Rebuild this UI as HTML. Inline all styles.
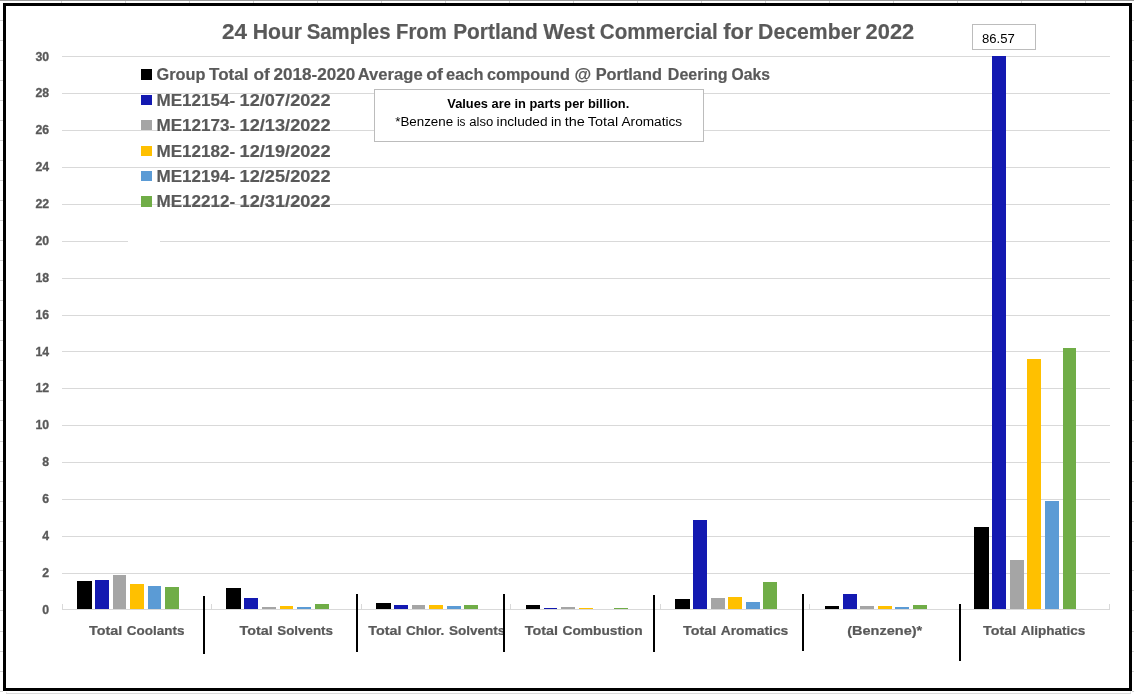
<!DOCTYPE html>
<html lang="en"><head><meta charset="utf-8"><title>24 Hour Samples From Portland West Commercial for December 2022</title>
<style>html,body{margin:0;padding:0;background:#fff;overflow:hidden}svg{display:block}text{font-family:"Liberation Sans",sans-serif}.b{font-weight:bold}.g{fill:#595959}.s4{stroke:#595959;stroke-width:.22px}.s3{stroke:#595959;stroke-width:.18px}</style></head><body>
<svg width="1134" height="694" viewBox="0 0 1134 694" shape-rendering="crispEdges">
<rect width="1134" height="694" fill="#fff"/>
<rect x="0" y="0" width="1134" height="1" fill="#9b9b9b"/>
<g fill="#d4d4d4">
<rect x="61" y="1" width="1" height="2"/>
<rect x="125" y="1" width="1" height="2"/>
<rect x="189" y="1" width="1" height="2"/>
<rect x="253" y="1" width="1" height="2"/>
<rect x="317" y="1" width="1" height="2"/>
<rect x="381" y="1" width="1" height="2"/>
<rect x="445" y="1" width="1" height="2"/>
<rect x="509" y="1" width="1" height="2"/>
<rect x="573" y="1" width="1" height="2"/>
<rect x="637" y="1" width="1" height="2"/>
<rect x="701" y="1" width="1" height="2"/>
<rect x="765" y="1" width="1" height="2"/>
<rect x="829" y="1" width="1" height="2"/>
<rect x="893" y="1" width="1" height="2"/>
<rect x="957" y="1" width="1" height="2"/>
<rect x="1021" y="1" width="1" height="2"/>
<rect x="1085" y="1" width="1" height="2"/>
<rect x="0" y="20" width="3" height="1"/>
<rect x="1132" y="20" width="2" height="1"/>
<rect x="0" y="40" width="3" height="1"/>
<rect x="1132" y="40" width="2" height="1"/>
<rect x="0" y="60" width="3" height="1"/>
<rect x="1132" y="60" width="2" height="1"/>
<rect x="0" y="80" width="3" height="1"/>
<rect x="1132" y="80" width="2" height="1"/>
<rect x="0" y="100" width="3" height="1"/>
<rect x="1132" y="100" width="2" height="1"/>
<rect x="0" y="120" width="3" height="1"/>
<rect x="1132" y="120" width="2" height="1"/>
<rect x="0" y="140" width="3" height="1"/>
<rect x="1132" y="140" width="2" height="1"/>
<rect x="0" y="160" width="3" height="1"/>
<rect x="1132" y="160" width="2" height="1"/>
<rect x="0" y="180" width="3" height="1"/>
<rect x="1132" y="180" width="2" height="1"/>
<rect x="0" y="200" width="3" height="1"/>
<rect x="1132" y="200" width="2" height="1"/>
<rect x="0" y="220" width="3" height="1"/>
<rect x="1132" y="220" width="2" height="1"/>
<rect x="0" y="240" width="3" height="1"/>
<rect x="1132" y="240" width="2" height="1"/>
<rect x="0" y="260" width="3" height="1"/>
<rect x="1132" y="260" width="2" height="1"/>
<rect x="0" y="280" width="3" height="1"/>
<rect x="1132" y="280" width="2" height="1"/>
<rect x="0" y="300" width="3" height="1"/>
<rect x="1132" y="300" width="2" height="1"/>
<rect x="0" y="320" width="3" height="1"/>
<rect x="1132" y="320" width="2" height="1"/>
<rect x="0" y="340" width="3" height="1"/>
<rect x="1132" y="340" width="2" height="1"/>
<rect x="0" y="360" width="3" height="1"/>
<rect x="1132" y="360" width="2" height="1"/>
<rect x="0" y="380" width="3" height="1"/>
<rect x="1132" y="380" width="2" height="1"/>
<rect x="0" y="400" width="3" height="1"/>
<rect x="1132" y="400" width="2" height="1"/>
<rect x="0" y="420" width="3" height="1"/>
<rect x="1132" y="420" width="2" height="1"/>
<rect x="0" y="441" width="3" height="1"/>
<rect x="1132" y="441" width="2" height="1"/>
<rect x="0" y="461" width="3" height="1"/>
<rect x="1132" y="461" width="2" height="1"/>
<rect x="0" y="481" width="3" height="1"/>
<rect x="1132" y="481" width="2" height="1"/>
<rect x="0" y="501" width="3" height="1"/>
<rect x="1132" y="501" width="2" height="1"/>
<rect x="0" y="521" width="3" height="1"/>
<rect x="1132" y="521" width="2" height="1"/>
<rect x="0" y="541" width="3" height="1"/>
<rect x="1132" y="541" width="2" height="1"/>
<rect x="0" y="570" width="3" height="1"/>
<rect x="1132" y="570" width="2" height="1"/>
<rect x="0" y="590" width="3" height="1"/>
<rect x="1132" y="590" width="2" height="1"/>
<rect x="0" y="610" width="3" height="1"/>
<rect x="1132" y="610" width="2" height="1"/>
<rect x="0" y="631" width="3" height="1"/>
<rect x="1132" y="631" width="2" height="1"/>
<rect x="0" y="651" width="3" height="1"/>
<rect x="1132" y="651" width="2" height="1"/>
<rect x="0" y="671" width="3" height="1"/>
<rect x="1132" y="671" width="2" height="1"/>
<rect x="0" y="691" width="3" height="1"/>
<rect x="1132" y="691" width="2" height="1"/>
<rect x="6" y="693" width="1125" height="1" fill="#dadada"/><rect x="6" y="692" width="1" height="1" fill="#e6e6e6"/><rect x="1130" y="691" width="1" height="2" fill="#e6e6e6"/>
</g>
<rect x="4.5" y="4.5" width="1126" height="685" fill="#fff" stroke="#000" stroke-width="3"/>
<g fill="#d9d9d9">
<rect x="62" y="609" width="1048" height="1"/>
<rect x="62" y="573" width="1048" height="1"/>
<rect x="62" y="536" width="1048" height="1"/>
<rect x="62" y="499" width="1048" height="1"/>
<rect x="62" y="462" width="1048" height="1"/>
<rect x="62" y="425" width="1048" height="1"/>
<rect x="62" y="388" width="1048" height="1"/>
<rect x="62" y="351" width="1048" height="1"/>
<rect x="62" y="315" width="1048" height="1"/>
<rect x="62" y="278" width="1048" height="1"/>
<rect x="62" y="241" width="1048" height="1"/>
<rect x="62" y="204" width="1048" height="1"/>
<rect x="62" y="167" width="1048" height="1"/>
<rect x="62" y="130" width="1048" height="1"/>
<rect x="62" y="93" width="1048" height="1"/>
<rect x="62" y="56" width="1048" height="1"/>
<rect x="62" y="604" width="1" height="5"/>
<rect x="211" y="604" width="1" height="5"/>
<rect x="361" y="604" width="1" height="5"/>
<rect x="510" y="604" width="1" height="5"/>
<rect x="660" y="604" width="1" height="5"/>
<rect x="809" y="604" width="1" height="5"/>
<rect x="959" y="604" width="1" height="5"/>
<rect x="1109" y="604" width="1" height="5"/>
</g>
<rect x="128" y="236" width="32" height="11" fill="#fff"/>
<rect x="77" y="581" width="15" height="28" fill="#000000"/>
<rect x="95" y="580" width="14" height="29" fill="#1319B1"/>
<rect x="113" y="575" width="13" height="34" fill="#A5A5A5"/>
<rect x="130" y="584" width="14" height="25" fill="#FFC000"/>
<rect x="148" y="586" width="13" height="23" fill="#5B9BD5"/>
<rect x="165" y="587" width="14" height="22" fill="#70AD47"/>
<rect x="226" y="588" width="15" height="21" fill="#000000"/>
<rect x="244" y="598" width="14" height="11" fill="#1319B1"/>
<rect x="262" y="607" width="14" height="2" fill="#A5A5A5"/>
<rect x="280" y="606" width="13" height="3" fill="#FFC000"/>
<rect x="297" y="607" width="14" height="2" fill="#5B9BD5"/>
<rect x="315" y="604" width="14" height="5" fill="#70AD47"/>
<rect x="376" y="603" width="15" height="6" fill="#000000"/>
<rect x="394" y="605" width="14" height="4" fill="#1319B1"/>
<rect x="412" y="605" width="13" height="4" fill="#A5A5A5"/>
<rect x="429" y="605" width="14" height="4" fill="#FFC000"/>
<rect x="447" y="606" width="14" height="3" fill="#5B9BD5"/>
<rect x="464" y="605" width="14" height="4" fill="#70AD47"/>
<rect x="526" y="605" width="14" height="4" fill="#000000"/>
<rect x="544" y="608" width="13" height="1" fill="#1319B1"/>
<rect x="561" y="607" width="14" height="2" fill="#A5A5A5"/>
<rect x="579" y="608" width="14" height="1" fill="#FFC000"/>
<rect x="614" y="608" width="14" height="1" fill="#70AD47"/>
<rect x="675" y="599" width="15" height="10" fill="#000000"/>
<rect x="693" y="520" width="14" height="89" fill="#1319B1"/>
<rect x="711" y="598" width="14" height="11" fill="#A5A5A5"/>
<rect x="728" y="597" width="14" height="12" fill="#FFC000"/>
<rect x="746" y="602" width="14" height="7" fill="#5B9BD5"/>
<rect x="763" y="582" width="14" height="27" fill="#70AD47"/>
<rect x="825" y="606" width="14" height="3" fill="#000000"/>
<rect x="843" y="594" width="14" height="15" fill="#1319B1"/>
<rect x="860" y="606" width="14" height="3" fill="#A5A5A5"/>
<rect x="878" y="606" width="14" height="3" fill="#FFC000"/>
<rect x="895" y="607" width="14" height="2" fill="#5B9BD5"/>
<rect x="913" y="605" width="14" height="4" fill="#70AD47"/>
<rect x="974" y="527" width="15" height="82" fill="#000000"/>
<rect x="992" y="56" width="14" height="553" fill="#1319B1"/>
<rect x="1010" y="560" width="14" height="49" fill="#A5A5A5"/>
<rect x="1027" y="359" width="14" height="250" fill="#FFC000"/>
<rect x="1045" y="501" width="14" height="108" fill="#5B9BD5"/>
<rect x="1063" y="348" width="13" height="261" fill="#70AD47"/>
<g class="b g" font-size="12.3" text-anchor="end" stroke="#595959" stroke-width=".3">
<text x="49.1" y="613.9">0</text>
<text x="49.1" y="576.9">2</text>
<text x="49.1" y="539.9">4</text>
<text x="49.1" y="502.9">6</text>
<text x="49.1" y="465.9">8</text>
<text x="49.1" y="428.9">10</text>
<text x="49.1" y="391.9">12</text>
<text x="49.1" y="355.9">14</text>
<text x="49.1" y="318.9">16</text>
<text x="49.1" y="281.9">18</text>
<text x="49.1" y="244.9">20</text>
<text x="49.1" y="207.9">22</text>
<text x="49.1" y="170.9">24</text>
<text x="49.1" y="133.9">26</text>
<text x="49.1" y="96.9">28</text>
<text x="49.1" y="60.9">30</text>
</g>
<text class="b g s3" y="39" font-size="22.3"><tspan x="222.0" textLength="25.1" lengthAdjust="spacingAndGlyphs">24</tspan> <tspan x="252.7" textLength="49.4" lengthAdjust="spacingAndGlyphs">Hour</tspan> <tspan x="306.7" textLength="83.8" lengthAdjust="spacingAndGlyphs">Samples</tspan> <tspan x="396.1" textLength="50.7" lengthAdjust="spacingAndGlyphs">From</tspan> <tspan x="453.2" textLength="84.7" lengthAdjust="spacingAndGlyphs">Portland</tspan> <tspan x="543.2" textLength="51.5" lengthAdjust="spacingAndGlyphs">West</tspan> <tspan x="599.8" textLength="118.0" lengthAdjust="spacingAndGlyphs">Commercial</tspan> <tspan x="723.2" textLength="29.6" lengthAdjust="spacingAndGlyphs">for</tspan> <tspan x="758.1" textLength="102.6" lengthAdjust="spacingAndGlyphs">December</tspan> <tspan x="865.6" textLength="48.7" lengthAdjust="spacingAndGlyphs">2022</tspan></text>
<rect x="141" y="69" width="11" height="11" fill="#000000"/>
<text class="b g s3" y="80.1" font-size="16.8"><tspan x="156.6" textLength="48.9" lengthAdjust="spacingAndGlyphs">Group</tspan> <tspan x="209.1" textLength="39.3" lengthAdjust="spacingAndGlyphs">Total</tspan> <tspan x="253.5" textLength="16.3" lengthAdjust="spacingAndGlyphs">of</tspan> <tspan x="273.4" textLength="81.8" lengthAdjust="spacingAndGlyphs">2018-2020</tspan> <tspan x="357.7" textLength="65.0" lengthAdjust="spacingAndGlyphs">Average</tspan> <tspan x="426.2" textLength="16.8" lengthAdjust="spacingAndGlyphs">of</tspan> <tspan x="446.1" textLength="37.4" lengthAdjust="spacingAndGlyphs">each</tspan> <tspan x="487.0" textLength="82.9" lengthAdjust="spacingAndGlyphs">compound</tspan> <tspan x="574.6" textLength="16.7" lengthAdjust="spacingAndGlyphs">@</tspan> <tspan x="595.7" textLength="66.2" lengthAdjust="spacingAndGlyphs">Portland</tspan> <tspan x="667.8" textLength="59.7" lengthAdjust="spacingAndGlyphs">Deering</tspan> <tspan x="731.5" textLength="38.5" lengthAdjust="spacingAndGlyphs">Oaks</tspan></text>
<rect x="141" y="95" width="11" height="10" fill="#1319B1"/>
<text class="b g s3" y="105.6" font-size="16.8"><tspan x="156.5" textLength="78.8" lengthAdjust="spacingAndGlyphs">ME12154-</tspan> <tspan x="239.6" textLength="91.0" lengthAdjust="spacingAndGlyphs">12/07/2022</tspan></text>
<rect x="141" y="120" width="11" height="10" fill="#A5A5A5"/>
<text class="b g s3" y="131.0" font-size="16.8"><tspan x="156.5" textLength="78.8" lengthAdjust="spacingAndGlyphs">ME12173-</tspan> <tspan x="239.6" textLength="91.0" lengthAdjust="spacingAndGlyphs">12/13/2022</tspan></text>
<rect x="141" y="146" width="11" height="10" fill="#FFC000"/>
<text class="b g s3" y="156.5" font-size="16.8"><tspan x="156.5" textLength="78.8" lengthAdjust="spacingAndGlyphs">ME12182-</tspan> <tspan x="239.6" textLength="91.0" lengthAdjust="spacingAndGlyphs">12/19/2022</tspan></text>
<rect x="141" y="171" width="11" height="10" fill="#5B9BD5"/>
<text class="b g s3" y="181.9" font-size="16.8"><tspan x="156.5" textLength="78.8" lengthAdjust="spacingAndGlyphs">ME12194-</tspan> <tspan x="239.6" textLength="91.0" lengthAdjust="spacingAndGlyphs">12/25/2022</tspan></text>
<rect x="141" y="196" width="11" height="11" fill="#70AD47"/>
<text class="b g s3" y="207.4" font-size="16.8"><tspan x="156.5" textLength="78.8" lengthAdjust="spacingAndGlyphs">ME12212-</tspan> <tspan x="239.6" textLength="91.0" lengthAdjust="spacingAndGlyphs">12/31/2022</tspan></text>
<rect x="374.5" y="89.5" width="329" height="52" fill="#fff" stroke="#bcbcbc" stroke-width="1"/>
<text class="b" x="447.3" y="108" font-size="12.6" fill="#000" textLength="182" lengthAdjust="spacingAndGlyphs">Values are in parts per billion.</text>
<text y="125.9" font-size="12" fill="#000"><tspan x="395.2" textLength="58.0" lengthAdjust="spacingAndGlyphs">*Benzene</tspan> <tspan x="457.0" textLength="8.5" lengthAdjust="spacingAndGlyphs">is</tspan> <tspan x="469.3" textLength="24.0" lengthAdjust="spacingAndGlyphs">also</tspan> <tspan x="496.6" textLength="51.0" lengthAdjust="spacingAndGlyphs">included</tspan> <tspan x="551.0" textLength="10.4" lengthAdjust="spacingAndGlyphs">in</tspan> <tspan x="564.7" textLength="20.1" lengthAdjust="spacingAndGlyphs">the</tspan> <tspan x="587.8" textLength="30.3" lengthAdjust="spacingAndGlyphs">Total</tspan> <tspan x="621.5" textLength="60.6" lengthAdjust="spacingAndGlyphs">Aromatics</tspan></text>
<rect x="972.5" y="24.5" width="63" height="25" fill="#fff" stroke="#bcbcbc" stroke-width="1"/>
<text x="982" y="42.7" font-size="12" fill="#000" textLength="32.8" lengthAdjust="spacingAndGlyphs">86.57</text>
<text class="b g s4" y="634.5" font-size="13.7"><tspan x="89.1" textLength="33.2" lengthAdjust="spacingAndGlyphs">Total</tspan> <tspan x="126.8" textLength="57.6" lengthAdjust="spacingAndGlyphs">Coolants</tspan></text>
<text class="b g s4" y="634.5" font-size="13.7"><tspan x="239.6" textLength="33.2" lengthAdjust="spacingAndGlyphs">Total</tspan> <tspan x="277.3" textLength="55.7" lengthAdjust="spacingAndGlyphs">Solvents</tspan></text>
<text class="b g s4" y="634.5" font-size="13.7"><tspan x="368.2" textLength="33.2" lengthAdjust="spacingAndGlyphs">Total</tspan> <tspan x="405.9" textLength="38.5" lengthAdjust="spacingAndGlyphs">Chlor.</tspan> <tspan x="448.9" textLength="56.5" lengthAdjust="spacingAndGlyphs">Solvents</tspan></text>
<text class="b g s4" y="634.5" font-size="13.7"><tspan x="524.8" textLength="33.2" lengthAdjust="spacingAndGlyphs">Total</tspan> <tspan x="562.5" textLength="80.1" lengthAdjust="spacingAndGlyphs">Combustion</tspan></text>
<text class="b g s4" y="634.5" font-size="13.7"><tspan x="683.0" textLength="33.2" lengthAdjust="spacingAndGlyphs">Total</tspan> <tspan x="720.7" textLength="67.6" lengthAdjust="spacingAndGlyphs">Aromatics</tspan></text>
<text class="b g s4" y="634.5" font-size="13.7"><tspan x="847.2" textLength="75.0" lengthAdjust="spacingAndGlyphs">(Benzene)*</tspan></text>
<text class="b g s4" y="634.5" font-size="13.7"><tspan x="983.0" textLength="33.2" lengthAdjust="spacingAndGlyphs">Total</tspan> <tspan x="1020.7" textLength="64.7" lengthAdjust="spacingAndGlyphs">Aliphatics</tspan></text>
<rect x="203" y="596" width="2" height="58" fill="#000"/>
<rect x="356" y="594" width="2" height="57.5" fill="#000"/>
<rect x="503" y="594" width="2" height="57.5" fill="#000"/>
<rect x="653" y="595" width="2" height="57" fill="#000"/>
<rect x="802" y="594" width="2" height="57" fill="#000"/>
<rect x="959" y="604" width="2" height="57" fill="#000"/>
</svg></body></html>
